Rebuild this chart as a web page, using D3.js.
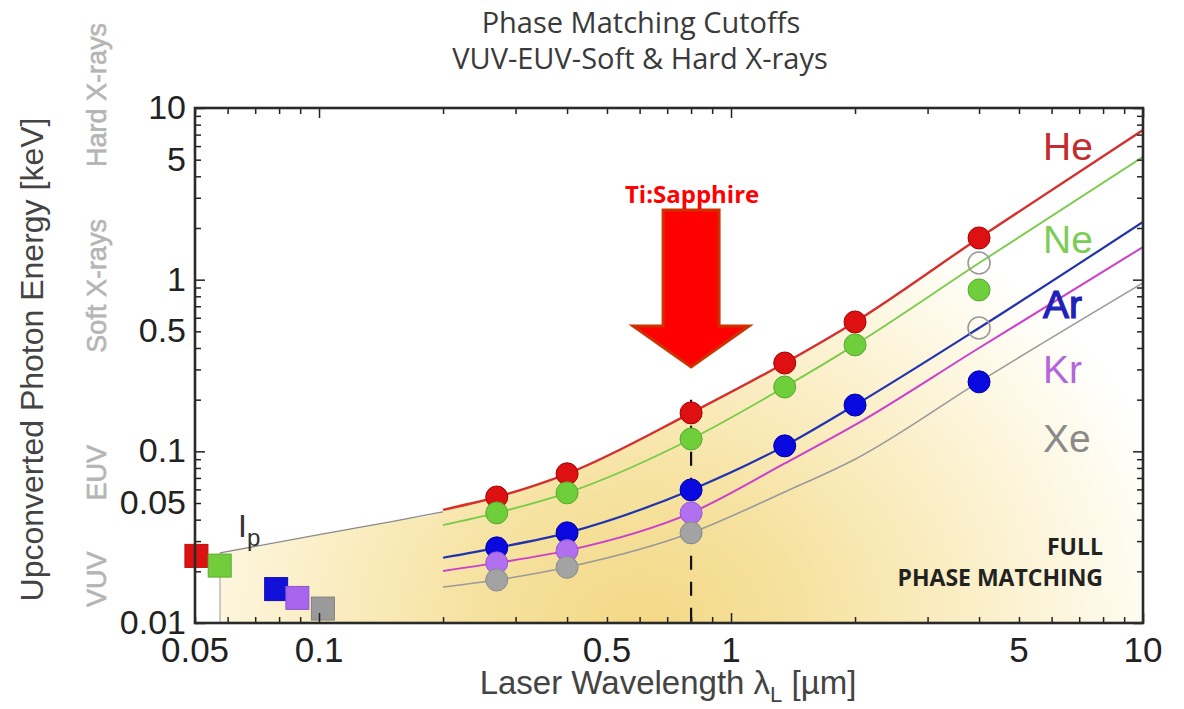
<!DOCTYPE html>
<html>
<head>
<meta charset="utf-8">
<script src="https://cdn.jsdelivr.net/npm/d3@7"></script>
<style>
  body { margin: 0; background: #fff; }
  svg { display: block; }
</style>
</head>
<body>
<div class="container"></div>
<script>
const width = 1184;
const height = 709;

// wavelengths (µm) where the cutoff curves are sampled
const curveWl = [0.2, 0.27, 0.4, 0.8, 1.35, 2, 4, 10];
const heCurve = [0.0456, 0.0542, 0.074, 0.1675, 0.327, 0.567, 1.75, 7.45];
const neCurve = [0.0372, 0.0438, 0.0573, 0.118, 0.237, 0.417, 1.25, 5.19];
const arCurve = [0.024, 0.0274, 0.0335, 0.0596, 0.1076, 0.186, 0.523, 2.17];
const krCurve = [0.0201, 0.0224, 0.0264, 0.0438, 0.085, 0.1425, 0.40, 1.55];
const xeCurve = [0.0162, 0.0178, 0.0211, 0.0335, 0.058, 0.09, 0.254, 0.957];

// measured points
const heDotsWl = [0.27, 0.4, 0.8, 1.35, 2, 4];
const heDots = [0.0542, 0.074, 0.1675, 0.327, 0.567, 1.75];
const neDotsWl = [0.27, 0.4, 0.8, 1.35, 2, 4];
const neDots = [0.0438, 0.0573, 0.118, 0.237, 0.417, 0.871];
const arDotsWl = [0.27, 0.4, 0.8, 1.35, 2, 4];
const arDots = [0.0274, 0.0335, 0.0596, 0.1076, 0.186, 0.254];
const krDotsWl = [0.27, 0.4, 0.8];
const krDots = [0.0224, 0.0264, 0.0438];
const xeDotsWl = [0.27, 0.4, 0.8];
const xeDots = [0.0178, 0.0211, 0.0335];
const openDotsWl = [4, 4];
const openDots = [1.25, 0.523];

// ionization potentials (squares)
const ipWl = [0.0504, 0.0574, 0.0787, 0.0886, 0.1022];
const ipKeV = [0.0246, 0.0216, 0.01576, 0.014, 0.01213];
const ipColors = ['#dd1111', '#72cc3c', '#1010d8', '#a866ee', '#9a9a9a'];

// Ip line
const ipLineWl = [0.0575, 0.1, 0.15, 0.2];
const ipLineKeV = [0.0256, 0.0327, 0.039, 0.0444];

const xTickLabels = [0.05, 0.1, 0.5, 1, 5, 10];
const yTickLabels = [0.01, 0.05, 0.1, 0.5, 1, 5, 10];
const bands = ['Hard X-rays', 'Soft X-rays', 'EUV', 'VUV'];
const bandKeV = [11.9, 0.92, 0.075, 0.018];
const gases = ['He', 'Ne', 'Ar', 'Kr', 'Xe'];
const gasKeV = [4.98, 1.43, 0.598, 0.25, 0.0993];

const x = d3.scaleLog().domain([0.05, 10]).range([195, 1143]);
const y = d3.scaleLog().domain([0.01, 10]).range([623, 108]);

const svg = d3.select('.container').append('svg')
  .attr('width', width).attr('height', height)
  .style('font-family', '"Liberation Sans", Arial, sans-serif');

const defs = svg.append('defs');
const grad = defs.append('radialGradient').attr('id', 'glow')
  .attr('gradientUnits', 'userSpaceOnUse')
  .attr('cx', 640).attr('cy', 630).attr('r', 560)
  .attr('gradientTransform', 'translate(640,630) scale(1,0.85) translate(-640,-630)');
[[0, '#f3d885'], [0.3, '#f6e2a0'], [0.6, '#fbefc8'], [0.85, '#fefaea'], [1, '#ffffff']]
  .forEach(s => grad.append('stop').attr('offset', s[0]).attr('stop-color', s[1]));
defs.append('clipPath').attr('id', 'plot').append('rect')
  .attr('x', x(0.05)).attr('y', y(10))
  .attr('width', x(10) - x(0.05)).attr('height', y(0.01) - y(10));

const plot = svg.append('g').attr('clip-path', 'url(#plot)');

// shaded full phase matching region
const topEdge = ipLineWl.map((w, i) => [w, ipLineKeV[i]])
  .concat(curveWl.map((w, i) => [w, heCurve[i]]));
plot.append('path')
  .datum(topEdge)
  .attr('fill', 'url(#glow)')
  .attr('d', d3.area().x(d => x(d[0])).y0(y(0.01)).y1(d => y(d[1])).curve(d3.curveMonotoneX));

plot.append('line')
  .attr('x1', x(ipLineWl[0])).attr('x2', x(ipLineWl[0]))
  .attr('y1', y(ipLineKeV[0])).attr('y2', y(0.01))
  .attr('stroke', '#999').attr('stroke-width', 1);

const line = d3.line().x(d => x(d[0])).y(d => y(d[1])).curve(d3.curveMonotoneX);

plot.append('path')
  .datum(ipLineWl.map((w, i) => [w, ipLineKeV[i]]))
  .attr('fill', 'none').attr('stroke', '#8a8a8a').attr('stroke-width', 1.3)
  .attr('d', line);

const curves = [
  [heCurve, '#d4302e', 2.4],
  [neCurve, '#78cc48', 1.8],
  [arCurve, '#2233b0', 2.2],
  [krCurve, '#cc3fcc', 2],
  [xeCurve, '#9a9a9a', 1.6]
];
curves.forEach(c => {
  plot.append('path')
    .datum(curveWl.map((w, i) => [w, c[0][i]]))
    .attr('fill', 'none').attr('stroke', c[1]).attr('stroke-width', c[2])
    .attr('d', line);
});

// Ti:Sapphire wavelength marker
plot.append('line')
  .attr('x1', x(0.8)).attr('x2', x(0.8))
  .attr('y1', y(0.2)).attr('y2', y(0.01))
  .attr('stroke', '#111').attr('stroke-width', 2.2)
  .attr('stroke-dasharray', '14,12');

const dotSets = [
  [heDotsWl, heDots, '#dd1111', '#a80000'],
  [neDotsWl, neDots, '#6fcf3a', '#58a832'],
  [arDotsWl, arDots, '#0a0ae0', '#0000a0'],
  [krDotsWl, krDots, '#b070f0', '#9358d0'],
  [xeDotsWl, xeDots, '#a3a3a3', '#8a8a8a']
];
dotSets.forEach(s => {
  plot.selectAll(null).data(s[0].map((w, i) => [w, s[1][i]])).enter()
    .append('circle')
    .attr('cx', d => x(d[0])).attr('cy', d => y(d[1])).attr('r', 11)
    .attr('fill', s[2]).attr('stroke', s[3]).attr('stroke-width', 1);
});
plot.selectAll(null).data(openDotsWl.map((w, i) => [w, openDots[i]])).enter()
  .append('circle')
  .attr('cx', d => x(d[0])).attr('cy', d => y(d[1])).attr('r', 11)
  .attr('fill', 'none').attr('stroke', '#9a9a9a').attr('stroke-width', 1.6);

svg.selectAll(null).data(ipWl.map((w, i) => [w, ipKeV[i], ipColors[i]])).enter()
  .append('rect')
  .attr('x', d => x(d[0]) - 11.5).attr('y', d => y(d[1]) - 11.5)
  .attr('width', 23).attr('height', 23)
  .attr('fill', d => d[2])
  .attr('stroke', d => d3.color(d[2]).darker(0.5)).attr('stroke-width', 1);

// frame and inward ticks
const tickColor = '#222';
function ticks(axisFn, scale, pos) {
  const vals = scale.ticks();
  const major = vals.filter(v => Math.abs(Math.log10(v) - Math.round(Math.log10(v))) < 1e-6);
  const minor = vals.filter(v => !major.includes(v));
  [[minor, 6], [major, 10]].forEach(t => {
    const g = svg.append('g').attr('transform', pos)
      .call(axisFn(scale).tickValues(t[0]).tickSize(-t[1]).tickFormat(''));
    g.select('.domain').remove();
    g.selectAll('line').attr('stroke', tickColor).attr('stroke-width', 1.5);
  });
}
ticks(d3.axisBottom, x, `translate(0,${y(0.01)})`);
ticks(d3.axisTop, x, `translate(0,${y(10)})`);
ticks(d3.axisLeft, y, `translate(${x(0.05)},0)`);
ticks(d3.axisRight, y, `translate(${x(10)},0)`);

svg.append('rect')
  .attr('x', x(0.05)).attr('y', y(10))
  .attr('width', x(10) - x(0.05)).attr('height', y(0.01) - y(10))
  .attr('fill', 'none').attr('stroke', '#2a2a2a').attr('stroke-width', 2.6);

svg.selectAll(null).data(xTickLabels).enter().append('text')
  .attr('x', d => x(d)).attr('y', 662)
  .attr('text-anchor', 'middle').attr('font-size', 35).attr('fill', '#222')
  .text(d => d);
svg.selectAll(null).data(yTickLabels).enter().append('text')
  .attr('x', 186).attr('y', d => y(d) + 11)
  .attr('text-anchor', 'end').attr('font-size', 34).attr('fill', '#222')
  .text(d => d);

// axis titles
svg.append('text')
  .attr('transform', `translate(43,${(y(10) + y(0.01)) / 2 - 6}) rotate(-90)`)
  .attr('text-anchor', 'middle').attr('font-size', 32).attr('fill', '#444')
  .text('Upconverted Photon Energy [keV]');

const xl = svg.append('text')
  .attr('x', 668).attr('y', 694)
  .attr('text-anchor', 'middle').attr('font-size', 33).attr('fill', '#444');
xl.append('tspan').text('Laser Wavelength ');
xl.append('tspan').text('λ');
xl.append('tspan').attr('font-size', 22).attr('dy', 8).text('L');
xl.append('tspan').attr('dy', -8).text(' [µm]');

svg.selectAll(null).data(bands).enter().append('text')
  .attr('transform', (d, i) => `translate(106,${y(bandKeV[i])}) rotate(-90)`)
  .attr('text-anchor', 'middle').attr('font-size', 27)
  .attr('fill', '#b5b5b5').attr('stroke', '#b5b5b5').attr('stroke-width', 0.6)
  .text(d => d);

// title
svg.append('text').attr('x', 641).attr('y', 33)
  .attr('text-anchor', 'middle').attr('font-family', '"Open Sans", sans-serif')
  .attr('font-size', 29).attr('fill', '#3a3a3a')
  .text('Phase Matching Cutoffs');
svg.append('text').attr('x', 640).attr('y', 69)
  .attr('text-anchor', 'middle').attr('font-family', '"Open Sans", sans-serif')
  .attr('font-size', 29).attr('fill', '#3a3a3a')
  .text('VUV-EUV-Soft & Hard X-rays');

// gas labels
const gasColors = ['#c42a2e', '#7ccc56', '#1e22b8', '#b466dc', '#8a8a8a'];
svg.selectAll(null).data(gases).enter().append('text')
  .attr('x', 1043).attr('y', (d, i) => y(gasKeV[i]))
  .attr('font-size', 39).attr('fill', (d, i) => gasColors[i])
  .attr('stroke', (d, i) => d === 'Ar' ? gasColors[i] : 'none')
  .attr('stroke-width', 1.2)
  .text(d => d);

svg.append('text').attr('x', 1103).attr('y', 555)
  .attr('text-anchor', 'end').attr('font-family', '"Open Sans", sans-serif')
  .attr('font-weight', 'bold').attr('font-size', 23).attr('fill', '#222')
  .text('FULL');
svg.append('text').attr('x', 1103).attr('y', 586)
  .attr('text-anchor', 'end').attr('font-family', '"Open Sans", sans-serif')
  .attr('font-weight', 'bold').attr('font-size', 23).attr('fill', '#222')
  .text('PHASE MATCHING');

const ip = svg.append('text').attr('x', 238).attr('y', 537)
  .attr('font-size', 32).attr('fill', '#333');
ip.append('tspan').text('I');
ip.append('tspan').attr('font-size', 24).attr('dy', 9).text('p');

// Ti:Sapphire arrow
const ax = x(0.8);
const shaftTop = y(2.55), shaftBottom = y(0.537), tip = y(0.31);
svg.append('path')
  .attr('d', `M${ax - 28},${shaftTop} L${ax + 28},${shaftTop} L${ax + 28},${shaftBottom}
    L${ax + 58},${shaftBottom} L${ax},${tip} L${ax - 58},${shaftBottom}
    L${ax - 28},${shaftBottom} Z`)
  .attr('fill', '#ff0000').attr('stroke', '#cc3300').attr('stroke-width', 3)
  .attr('stroke-linejoin', 'miter');
svg.append('text').attr('x', ax + 1).attr('y', 203)
  .attr('text-anchor', 'middle').attr('font-family', '"Open Sans", sans-serif')
  .attr('font-weight', 'bold').attr('font-size', 24).attr('fill', '#ff0000')
  .text('Ti:Sapphire');
</script>
</body>
</html>
